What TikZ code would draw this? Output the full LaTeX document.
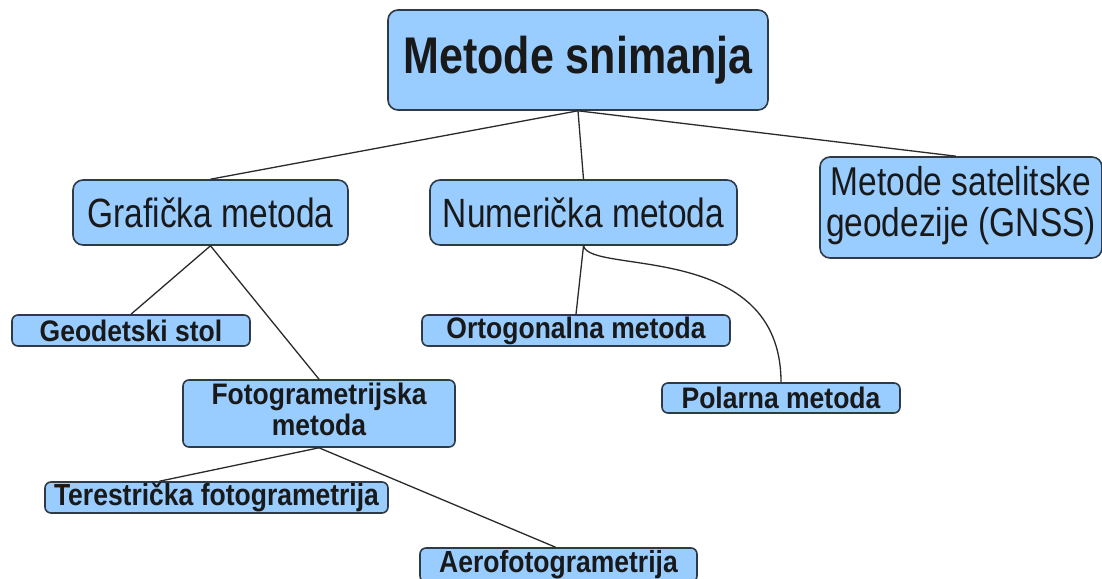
\documentclass[tikz,border=0pt]{standalone}
\usepackage{fontspec}
\setmainfont{Liberation Sans}
\usepackage{graphicx}
\definecolor{boxfill}{HTML}{99CCFF}
\definecolor{boxline}{HTML}{2E3B46}
\definecolor{wirecol}{HTML}{2A2A2A}
\newcommand\tallt[2]{\scalebox{1}[#1]{#2}}
\begin{document}
\begin{tikzpicture}[x=1pt,y=-1pt,
  box/.style={draw=boxline, fill=boxfill, line width=1.6pt, rounded corners=10pt, inner sep=0pt, text=black!90},
  big/.style={box, font=\fontsize{43}{46}\selectfont\bfseries},
  mid/.style={box, font=\fontsize{33.5}{32}\selectfont},
  small/.style={box, font=\fontsize{26.5}{28}\selectfont\bfseries, rounded corners=6pt},
  wire/.style={draw=wirecol, line width=1.3pt}]
\fill[white] (0,0) rectangle (1102,578);
\clip (0,0) rectangle (1102,578);
\node[big, minimum width=380pt, minimum height=100pt] (top) at (578,60) {\tallt{1.2}{Metode snimanja}};
\node[mid, minimum width=275pt, minimum height=65pt] (graf) at (210.5,212.5) {\tallt{1.22}{Grafička metoda}};
\node[mid, minimum width=307pt, minimum height=65pt] (num) at (583.5,212.5) {\tallt{1.22}{Numerička metoda}};
\node[mid, minimum width=282pt, minimum height=101pt] (gnss) at (961,207.5) {\tallt{1.2}{\begin{tabular}{@{}c@{}}Metode satelitske\\geodezije (GNSS)\end{tabular}}};
\node[small, minimum width=238pt, minimum height=31pt] (geo) at (131,330.5) {\tallt{1.12}{Geodetski stol}};
\node[small, minimum width=308pt, minimum height=31pt] (orto) at (576,330.5) {\tallt{1.12}{Ortogonalna metoda}};
\node[small, minimum width=238pt, minimum height=30pt] (pol) at (781,398) {\tallt{1.12}{Polarna metoda}};
\node[small, minimum width=272pt, minimum height=67pt] (foto) at (319,413.5) {\tallt{1.12}{\begin{tabular}{@{}c@{}}Fotogrametrijska\\metoda\end{tabular}}};
\node[small, minimum width=343pt, minimum height=31pt] (ter) at (216.5,497.5) {\tallt{1.15}{Terestrička fotogrametrija}};
\node[small, minimum width=277pt, minimum height=34pt] (aero) at (558.5,565) {\tallt{1.15}{Aerofotogrametrija}};
\draw[wire] (top.south) -- (graf.north);
\draw[wire] (top.south) -- (num.north);
\draw[wire] (top.south) -- ([xshift=-5pt]gnss.north);
\draw[wire] (graf.south) -- (geo.north);
\draw[wire] (graf.south) -- (foto.north);
\draw[wire] (num.south) -- (orto.north);
\draw[wire] (num.south) .. controls (590,275) and (781,240) .. (pol.north);
\draw[wire] (foto.south) -- ([xshift=-57pt]ter.north);
\draw[wire] (foto.south) -- ([xshift=-3pt]aero.north);
\end{tikzpicture}
\end{document}
